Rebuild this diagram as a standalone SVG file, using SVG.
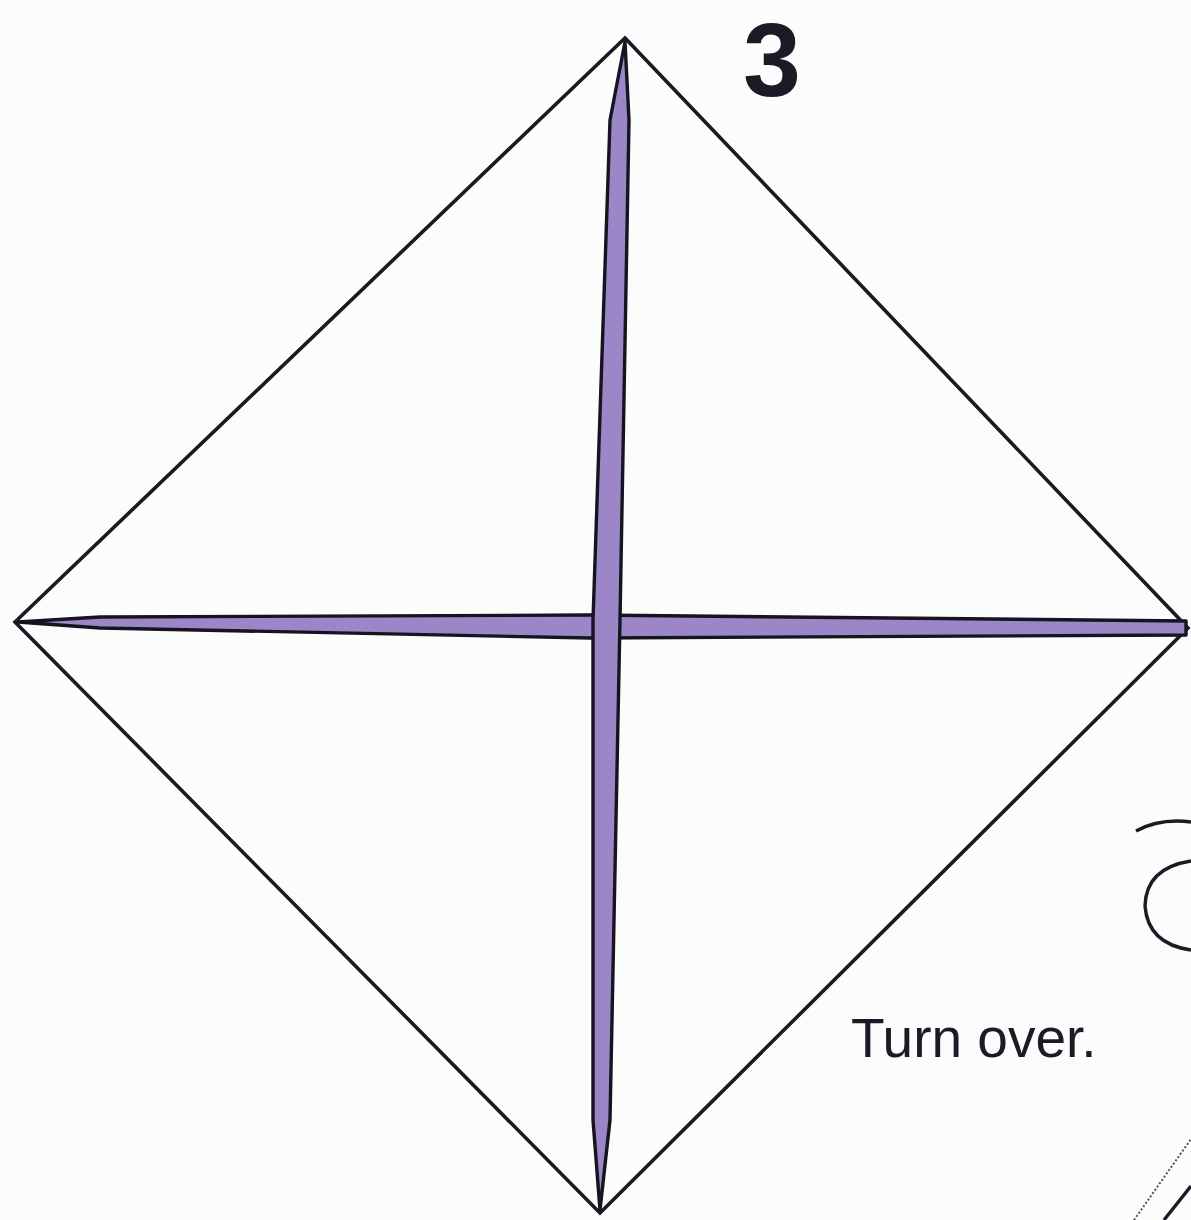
<svg xmlns="http://www.w3.org/2000/svg" width="1191" height="1220" viewBox="0 0 1191 1220">
<style>
.edge{fill:none;stroke:#1a1a22;stroke-width:3.6;stroke-linejoin:miter}
.crease{fill:#9b86c8;stroke:#15141f;stroke-width:3.4;stroke-linejoin:round}
.lbl{font-family:"Liberation Sans",Arial,sans-serif;fill:#1c1a24}
.thin{fill:none;stroke:#1c1a24;stroke-width:3.4}
</style>
<rect width="1191" height="1220" fill="#fdfcfd"/>
<g id="square">
<polygon class="edge" points="625,38 1188,628 600,1213 15,622"/>
</g>
<g id="creases">
<polygon class="crease" points="18,622 100,617 590,615 1186,621 1186,635 590,638 100,628"/>
<polygon class="crease" points="625,42 629,120 620,620 610,1120 600,1210 593,1120 593,620 610,120"/>
</g>
<g id="step-number">
<text class="lbl" x="743" y="96" font-size="104" font-weight="bold">3</text>
</g>
<g id="instruction">
<text class="lbl" x="851" y="1057" font-size="55">Turn over.</text>
</g>
<g id="next-step-partial">
<path class="thin" d="M1136,831 Q1160,818 1191,822"/>
<path class="thin" d="M1191,861 Q1146,868 1145,906 Q1148,944 1191,950"/>
<path fill="none" stroke="#55525e" stroke-width="2" stroke-dasharray="2,2" d="M1134,1220 L1191,1139"/>
<path class="thin" d="M1164,1220 L1191,1186"/>
</g>
</svg>
